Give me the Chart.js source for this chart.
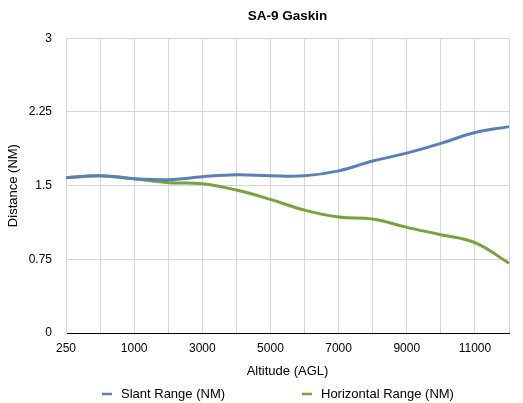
<!DOCTYPE html>
<html>
<head>
<meta charset="utf-8">
<script src="https://cdn.jsdelivr.net/npm/chart.js@4/dist/chart.umd.min.js"></script>
<style>
    html, body { margin: 0; padding: 0; background: #fff; }
    canvas { display: block; }
</style>
</head>
<body>
<canvas id="lineChart" width="523" height="403"></canvas>
<script>
var altitudes = ['250', '500', '1000', '2000', '3000', '4000', '5000', '6000', '7000', '8000', '9000', '10000', '11000', '12000'];
var slantRange = [1.58, 1.60, 1.57, 1.56, 1.59, 1.61, 1.60, 1.60, 1.65, 1.75, 1.83, 1.93, 2.04, 2.10];
var horizontalRange = [1.58, 1.60, 1.57, 1.53, 1.52, 1.455, 1.36, 1.25, 1.18, 1.16, 1.075, 1.00, 0.92, 0.71];
var seriesNames = ['Slant Range (NM)', 'Horizontal Range (NM)'];
var yTicks = [0, 0.75, 1.5, 2.25, 3];

var FONT = '"Liberation Sans", Arial, Helvetica, sans-serif';

// legend drawn by hand so the wide gap between the two items matches
var bottomLegend = {
    id: 'bottomLegend',
    afterDraw: function (chart) {
        var ctx = chart.ctx;
        var xs = [102, 302];
        var y = 394;
        ctx.save();
        chart.data.datasets.forEach(function (ds, i) {
            ctx.strokeStyle = ds.borderColor;
            ctx.lineWidth = 2.5;
            ctx.beginPath();
            ctx.moveTo(xs[i], y);
            ctx.lineTo(xs[i] + 10, y);
            ctx.stroke();
            ctx.fillStyle = '#000';
            ctx.font = '13px ' + FONT;
            ctx.textBaseline = 'middle';
            ctx.textAlign = 'left';
            ctx.fillText(ds.label, xs[i] + 19, y);
        });
        ctx.restore();
    }
};

var ctx = document.getElementById('lineChart').getContext('2d');

var myChart = new Chart(ctx, {
    type: 'line',
    data: {
        labels: altitudes,
        datasets: [
            {
                label: seriesNames[0],
                data: slantRange,
                borderColor: '#5b80b9',
                backgroundColor: '#5b80b9',
                borderWidth: 3,
                pointRadius: 0,
                tension: 0.4
            },
            {
                label: seriesNames[1],
                data: horizontalRange,
                borderColor: '#77a33b',
                backgroundColor: '#77a33b',
                borderWidth: 3,
                pointRadius: 0,
                tension: 0.4
            }
        ]
    },
    options: {
        responsive: false,
        animation: false,
        layout: {
            padding: { left: 0, right: 14, top: 0, bottom: 24 }
        },
        plugins: {
            legend: { display: false },
            tooltip: { enabled: false },
            title: {
                display: true,
                text: 'SA-9 Gaskin',
                fullSize: false,
                color: '#000',
                font: { family: FONT, size: 13.5, weight: 'bold' },
                padding: { top: 8, bottom: 14 }
            }
        },
        scales: {
            x: {
                grid: { color: '#d6d6d6', drawTicks: false },
                border: { color: '#000', width: 1 },
                ticks: {
                    autoSkip: false,
                    maxRotation: 0,
                    padding: 8,
                    color: '#000',
                    font: { family: FONT, size: 12 },
                    callback: function (value, index) {
                        return index % 2 === 0 ? altitudes[index] : '';
                    }
                },
                title: {
                    display: true,
                    text: 'Altitude (AGL)',
                    color: '#000',
                    font: { family: FONT, size: 13 },
                    padding: { top: 0, bottom: 0 }
                },
                afterFit: function (scale) {
                    scale.height = 46;
                }
            },
            y: {
                min: yTicks[0],
                max: yTicks[yTicks.length - 1],
                grid: { color: '#d6d6d6', drawTicks: false },
                border: { color: '#d6d6d6' },
                afterBuildTicks: function (scale) {
                    scale.ticks = yTicks.map(function (v) { return { value: v }; });
                },
                ticks: {
                    padding: 14,
                    color: '#000',
                    font: { family: FONT, size: 12 },
                    callback: function (value) {
                        return String(value);
                    }
                },
                title: {
                    display: true,
                    text: 'Distance (NM)',
                    color: '#000',
                    font: { family: FONT, size: 13 },
                    padding: { top: 6, bottom: 0 }
                },
                afterFit: function (scale) {
                    scale.width = 66;
                }
            }
        }
    },
    plugins: [bottomLegend]
});
</script>
</body>
</html>
